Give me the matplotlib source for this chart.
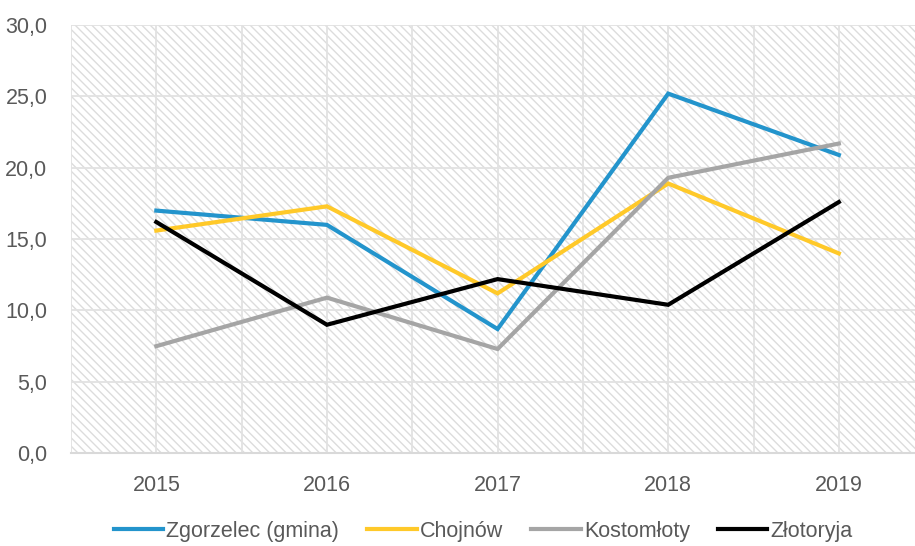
import matplotlib
matplotlib.use('Agg')
import matplotlib.pyplot as plt
from matplotlib.ticker import MultipleLocator, FuncFormatter
from matplotlib.patches import Rectangle

# Data
years = ['2015', '2016', '2017', '2018', '2019']
zgorzelec = [17.0, 16.0, 8.7, 25.2, 20.9]
chojnow = [15.6, 17.3, 11.2, 18.9, 14.0]
kostomloty = [7.5, 10.9, 7.3, 19.3, 21.7]
zlotoryja = [16.2, 9.0, 12.2, 10.4, 17.6]

names = ['Zgorzelec (gmina)', 'Chojnów', 'Kostomłoty', 'Złotoryja']
colors = ['#2394cc', '#ffc929', '#a5a5a5', '#000000']

plt.rcParams['font.family'] = ['Liberation Sans Narrow', 'Liberation Sans', 'DejaVu Sans']
plt.rcParams['hatch.color'] = '#dcdcdc'
plt.rcParams['hatch.linewidth'] = 1.0

fig = plt.figure(figsize=(9.15, 5.46), dpi=100)
ax = fig.add_axes([0.0776, 0.170, 1.0 - 0.0776 + 0.01, 0.784])

# hatched plot background
ax.add_patch(Rectangle((0, 0), 1, 1, transform=ax.transAxes, facecolor='white',
                       edgecolor='#dcdcdc', hatch='\\\\\\\\', linewidth=0, zorder=0))

x = range(len(years))
for vals, name, c in zip([zgorzelec, chojnow, kostomloty, zlotoryja], names, colors):
    ax.plot(x, vals, color=c, linewidth=3, label=name, zorder=3,
            solid_joinstyle='miter')

ax.set_xlim(-0.5, 4.5)
ax.set_ylim(0, 30)
ax.set_xticks(list(x))
ax.set_xticklabels(years)
ax.xaxis.set_minor_locator(MultipleLocator(0.5))
ax.yaxis.set_major_locator(MultipleLocator(5))
ax.yaxis.set_major_formatter(FuncFormatter(lambda v, p: f'{v:.1f}'.replace('.', ',')))

ax.grid(True, which='both', axis='x', color='#e2e2e2', linewidth=1.3, zorder=1)
ax.grid(True, which='major', axis='y', color='#e2e2e2', linewidth=1.3, zorder=1)
ax.set_axisbelow(True)

for s in ['top', 'right', 'left']:
    ax.spines[s].set_visible(False)
ax.spines['bottom'].set_color('#d9d9d9')
ax.spines['bottom'].set_linewidth(1.5)

ax.tick_params(which='both', length=0)
ax.tick_params(axis='both', labelsize=15.5, labelcolor='#595959')
ax.tick_params(axis='x', pad=16)
ax.tick_params(axis='y', pad=17)

fig.legend(loc='center', bbox_to_anchor=(0.528, 0.027), ncol=4, frameon=False,
           fontsize=15.5, labelcolor='#595959', handlelength=2.3, handletextpad=0.15,
           columnspacing=1.3)

fig.savefig('out.png', dpi=100)
